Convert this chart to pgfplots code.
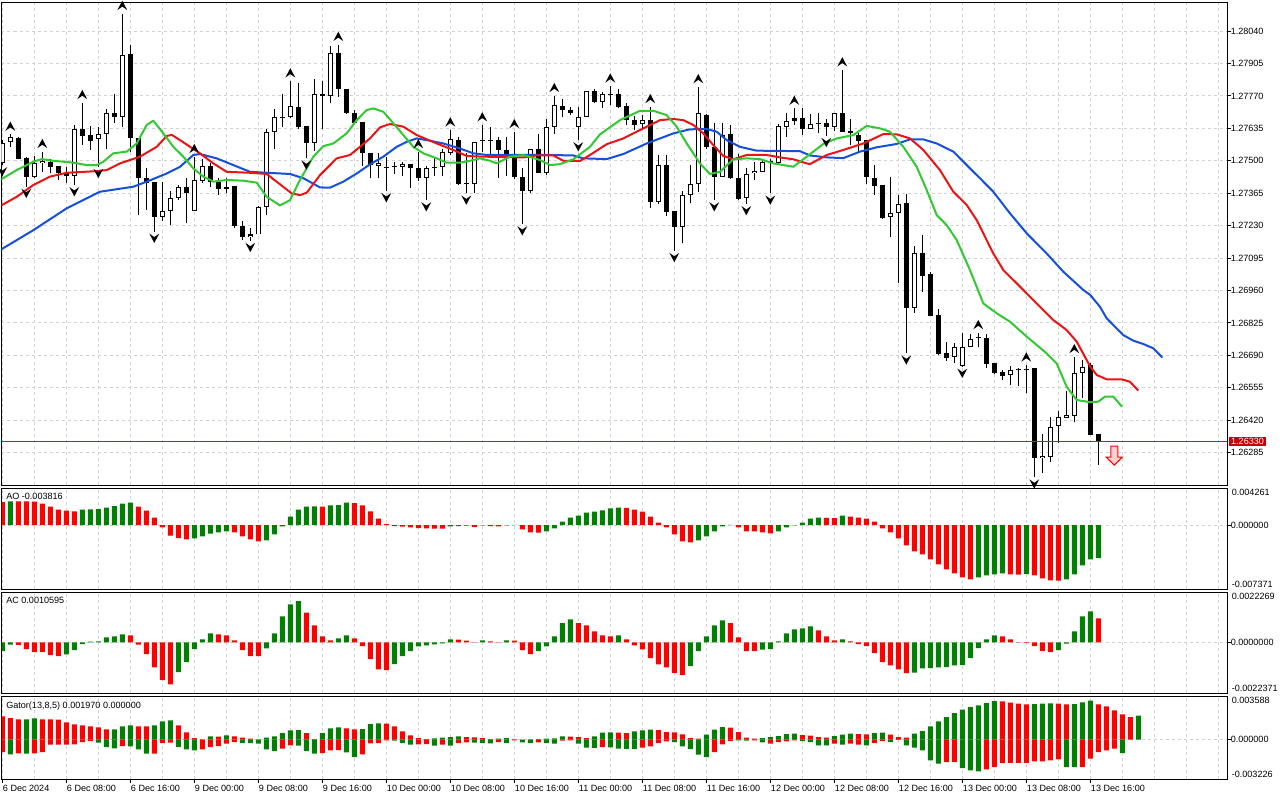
\documentclass[border=0pt]{standalone}
\usepackage{pgfplots}
\pgfplotsset{compat=1.18}
\usepackage{pgfplotstable}
\usepackage{fontspec}
\setmainfont{Liberation Sans}
\newcommand\tf{\fontsize{6.8}{8}\selectfont}
\definecolor{jaw}{RGB}{20,80,220}
\definecolor{teeth}{RGB}{235,20,20}
\definecolor{lips}{RGB}{50,200,50}
\definecolor{upg}{RGB}{0,128,0}
\definecolor{dnr}{RGB}{255,0,0}
\definecolor{gridc}{RGB}{210,210,210}
\definecolor{plabel}{RGB}{200,0,0}

\pgfdeclareplotmark{fup}{%
  \pgfpathmoveto{\pgfqpoint{0pt}{9.6pt}}%
  \pgfpathlineto{\pgfqpoint{3.7pt}{2.6pt}}%
  \pgfpathlineto{\pgfqpoint{0pt}{5.2pt}}%
  \pgfpathlineto{\pgfqpoint{-3.7pt}{2.6pt}}%
  \pgfpathclose\pgfusepathqfill}
\pgfdeclareplotmark{fdown}{%
  \pgfpathmoveto{\pgfqpoint{0pt}{-8.5pt}}%
  \pgfpathlineto{\pgfqpoint{3.7pt}{-1.5pt}}%
  \pgfpathlineto{\pgfqpoint{0pt}{-4.1pt}}%
  \pgfpathlineto{\pgfqpoint{-3.7pt}{-1.5pt}}%
  \pgfpathclose\pgfusepathqfill}
\pgfdeclareplotmark{sell}{%
  \pgfpathmoveto{\pgfqpoint{-2.6pt}{0pt}}%
  \pgfpathlineto{\pgfqpoint{2.6pt}{0pt}}%
  \pgfpathlineto{\pgfqpoint{2.6pt}{-8.25pt}}%
  \pgfpathlineto{\pgfqpoint{6pt}{-8.25pt}}%
  \pgfpathlineto{\pgfqpoint{0pt}{-14.25pt}}%
  \pgfpathlineto{\pgfqpoint{-6pt}{-8.25pt}}%
  \pgfpathlineto{\pgfqpoint{-2.6pt}{-8.25pt}}%
  \pgfpathclose\pgfusepathqfillstroke}

\pgfplotstableread{
k O H L C
0 1.27492 1.27586 1.27482 1.27575
1 1.27579 1.27610 1.27558 1.27600
2 1.27596 1.27600 1.27506 1.27507
3 1.27510 1.27517 1.27392 1.27434
4 1.27434 1.27520 1.27427 1.27489
5 1.27489 1.27538 1.27454 1.27500
6 1.27496 1.27506 1.27447 1.27475
7 1.27478 1.27480 1.27420 1.27447
8 1.27438 1.27475 1.27409 1.27447
9 1.27438 1.27649 1.27399 1.27631
10 1.27631 1.27742 1.27565 1.27603
11 1.27607 1.27644 1.27545 1.27583
12 1.27589 1.27642 1.27475 1.27610
13 1.27610 1.27714 1.27549 1.27697
14 1.27697 1.27778 1.27658 1.27681
15 1.27681 1.28113 1.27642 1.27940
16 1.27944 1.27982 1.27538 1.27593
17 1.27593 1.27593 1.27274 1.27429
18 1.27429 1.27468 1.27295 1.27406
19 1.27410 1.27410 1.27205 1.27267
20 1.27267 1.27410 1.27250 1.27289
21 1.27292 1.27375 1.27232 1.27347
22 1.27343 1.27399 1.27336 1.27389
23 1.27389 1.27427 1.27242 1.27364
24 1.27292 1.27517 1.27292 1.27420
25 1.27417 1.27506 1.27409 1.27478
26 1.27478 1.27489 1.27392 1.27413
27 1.27413 1.27427 1.27357 1.27381
28 1.27381 1.27427 1.27364 1.27389
29 1.27395 1.27395 1.27218 1.27228
30 1.27228 1.27250 1.27170 1.27181
31 1.27181 1.27218 1.27167 1.27193
32 1.27193 1.27311 1.27193 1.27306
33 1.27306 1.27631 1.27274 1.27621
34 1.27621 1.27714 1.27551 1.27683
35 1.27681 1.27780 1.27642 1.27683
36 1.27681 1.27832 1.27676 1.27729
37 1.27725 1.27822 1.27631 1.27639
38 1.27644 1.27644 1.27510 1.27575
39 1.27575 1.27839 1.27542 1.27780
40 1.27780 1.27832 1.27631 1.27771
41 1.27771 1.27978 1.27739 1.27947
42 1.27947 1.27984 1.27767 1.27797
43 1.27797 1.27800 1.27694 1.27697
44 1.27697 1.27711 1.27653 1.27658
45 1.27660 1.27660 1.27478 1.27531
46 1.27531 1.27531 1.27427 1.27482
47 1.27479 1.27531 1.27427 1.27492
48 1.27472 1.27517 1.27374 1.27470
49 1.27477 1.27496 1.27445 1.27474
50 1.27475 1.27493 1.27436 1.27485
51 1.27485 1.27485 1.27385 1.27468
52 1.27468 1.27537 1.27416 1.27429
53 1.27429 1.27478 1.27336 1.27468
54 1.27471 1.27510 1.27438 1.27472
55 1.27472 1.27547 1.27436 1.27535
56 1.27533 1.27628 1.27524 1.27589
57 1.27586 1.27600 1.27399 1.27403
58 1.27407 1.27531 1.27364 1.27404
59 1.27402 1.27579 1.27364 1.27579
60 1.27582 1.27649 1.27538 1.27585
61 1.27583 1.27642 1.27517 1.27582
62 1.27586 1.27600 1.27429 1.27545
63 1.27545 1.27600 1.27436 1.27517
64 1.27517 1.27621 1.27422 1.27431
65 1.27434 1.27468 1.27236 1.27375
66 1.27375 1.27549 1.27364 1.27549
67 1.27549 1.27610 1.27447 1.27447
68 1.27447 1.27674 1.27440 1.27642
69 1.27642 1.27771 1.27611 1.27732
70 1.27728 1.27757 1.27681 1.27711
71 1.27711 1.27725 1.27690 1.27700
72 1.27639 1.27722 1.27586 1.27681
73 1.27683 1.27792 1.27681 1.27790
74 1.27790 1.27797 1.27739 1.27746
75 1.27746 1.27787 1.27718 1.27776
76 1.27778 1.27811 1.27732 1.27775
77 1.27778 1.27797 1.27721 1.27725
78 1.27728 1.27739 1.27649 1.27669
79 1.27669 1.27686 1.27628 1.27649
80 1.27651 1.27690 1.27635 1.27669
81 1.27669 1.27725 1.27302 1.27327
82 1.27327 1.27524 1.27320 1.27482
83 1.27482 1.27524 1.27270 1.27288
84 1.27291 1.27291 1.27125 1.27225
85 1.27225 1.27375 1.27156 1.27357
86 1.27357 1.27482 1.27323 1.27403
87 1.27403 1.27808 1.27371 1.27697
88 1.27690 1.27693 1.27551 1.27556
89 1.27556 1.27656 1.27336 1.27434
90 1.27434 1.27656 1.27431 1.27607
91 1.27610 1.27649 1.27424 1.27427
92 1.27427 1.27528 1.27336 1.27341
93 1.27343 1.27468 1.27320 1.27445
94 1.27447 1.27496 1.27420 1.27457
95 1.27454 1.27506 1.27452 1.27493
96 1.27497 1.27506 1.27364 1.27500
97 1.27489 1.27653 1.27486 1.27644
98 1.27642 1.27697 1.27600 1.27665
99 1.27667 1.27718 1.27649 1.27676
100 1.27676 1.27718 1.27607 1.27631
101 1.27631 1.27694 1.27631 1.27651
102 1.27657 1.27697 1.27614 1.27654
103 1.27656 1.27672 1.27604 1.27639
104 1.27639 1.27700 1.27625 1.27697
105 1.27700 1.27878 1.27621 1.27621
106 1.27624 1.27672 1.27565 1.27614
107 1.27607 1.27614 1.27538 1.27583
108 1.27586 1.27586 1.27403 1.27431
109 1.27429 1.27482 1.27357 1.27396
110 1.27399 1.27399 1.27257 1.27260
111 1.27264 1.27434 1.27184 1.27281
112 1.27281 1.27357 1.26992 1.27320
113 1.27323 1.27361 1.26698 1.26888
114 1.26885 1.27145 1.26867 1.27114
115 1.27114 1.27191 1.26955 1.27021
116 1.27028 1.27035 1.26854 1.26854
117 1.26858 1.26881 1.26691 1.26695
118 1.26698 1.26747 1.26668 1.26680
119 1.26681 1.26740 1.26659 1.26723
120 1.26647 1.26781 1.26643 1.26723
121 1.26726 1.26777 1.26723 1.26758
122 1.26762 1.26784 1.26723 1.26765
123 1.26760 1.26779 1.26636 1.26654
124 1.26656 1.26659 1.26611 1.26618
125 1.26622 1.26629 1.26587 1.26605
126 1.26608 1.26645 1.26566 1.26629
127 1.26631 1.26638 1.26563 1.26634
128 1.26631 1.26649 1.26531 1.26634
129 1.26636 1.26636 1.26182 1.26261
130 1.26261 1.26362 1.26198 1.26271
131 1.26268 1.26434 1.26247 1.26393
132 1.26397 1.26459 1.26323 1.26432
133 1.26430 1.26541 1.26428 1.26441
134 1.26439 1.26684 1.26411 1.26615
135 1.26615 1.26670 1.26511 1.26643
136 1.26649 1.26656 1.26358 1.26358
137 1.26361 1.26361 1.26233 1.26330
}\candles

\pgfplotstableread{
k v c
0 0.002649 0
1 0.002726 1
2 0.002720 0
3 0.002710 0
4 0.002687 0
5 0.002457 0
6 0.002111 0
7 0.001766 0
8 0.001651 0
9 0.001574 0
10 0.001766 1
11 0.001804 1
12 0.001843 1
13 0.001996 1
14 0.002188 1
15 0.002457 1
16 0.002572 1
17 0.002111 0
18 0.001651 0
19 0.000845 0
20 -0.000269 0
21 -0.001228 0
22 -0.001497 0
23 -0.001651 0
24 -0.001536 1
25 -0.001305 1
26 -0.000998 1
27 -0.000845 1
28 -0.000729 1
29 -0.000845 0
30 -0.001305 0
31 -0.001651 0
32 -0.001881 0
33 -0.001766 1
34 -0.001075 1
35 -0.000154 1
36 0.000960 1
37 0.001766 1
38 0.002111 1
39 0.002150 1
40 0.002111 0
41 0.002265 1
42 0.002303 1
43 0.002572 1
44 0.002534 0
45 0.002265 0
46 0.001574 0
47 0.000729 0
48 0.000115 0
49 -0.000115 0
50 -0.000192 0
51 -0.000269 0
52 -0.000346 0
53 -0.000384 0
54 -0.000403 0
55 -0.000422 0
56 -0.000154 1
57 -0.000115 1
58 -0.000077 1
59 -0.000230 0
60 -0.000038 1
61 -0.000115 0
62 -0.000154 0
63 -0.000038 1
64 0.000020 1
65 -0.000499 0
66 -0.000845 0
67 -0.000864 0
68 -0.000729 1
69 -0.000384 1
70 0.000384 1
71 0.000845 1
72 0.001075 1
73 0.001420 1
74 0.001536 1
75 0.001689 1
76 0.001920 1
77 0.001996 1
78 0.001977 0
79 0.001766 0
80 0.001536 0
81 0.000960 0
82 0.000269 0
83 -0.000269 0
84 -0.001075 0
85 -0.001881 0
86 -0.001996 0
87 -0.001766 1
88 -0.001305 1
89 -0.000729 1
90 -0.000154 1
91 0.000020 1
92 -0.000269 0
93 -0.000729 0
94 -0.000735 0
95 -0.000845 0
96 -0.000960 0
97 -0.000729 1
98 -0.000269 1
99 -0.000038 1
100 0.000269 1
101 0.000729 1
102 0.000845 1
103 0.000825 0
104 0.000806 0
105 0.001075 1
106 0.000960 0
107 0.000845 0
108 0.000729 0
109 0.000384 0
110 -0.000384 0
111 -0.000845 0
112 -0.001536 0
113 -0.002342 0
114 -0.003033 0
115 -0.003378 0
116 -0.003954 0
117 -0.004530 0
118 -0.005106 0
119 -0.005567 0
120 -0.006027 0
121 -0.006258 0
122 -0.006027 1
123 -0.005797 1
124 -0.005682 1
125 -0.005567 1
126 -0.005682 0
127 -0.005720 0
128 -0.005643 1
129 -0.005797 0
130 -0.006142 0
131 -0.006373 0
132 -0.006411 0
133 -0.006258 1
134 -0.005682 1
135 -0.004645 1
136 -0.003954 1
137 -0.003816 1
}\ao

\pgfplotstableread{
k v c
0 -0.000383 1
1 -0.000103 1
2 -0.000105 0
3 -0.000295 0
4 -0.000427 0
5 -0.000430 0
6 -0.000560 0
7 -0.000604 0
8 -0.000530 1
9 -0.000339 1
10 -0.000074 1
11 0.000030 1
12 0.000044 1
13 0.000221 1
14 0.000265 1
15 0.000354 1
16 0.000309 0
17 -0.000103 0
18 -0.000516 0
19 -0.001105 0
20 -0.001665 0
21 -0.001856 0
22 -0.001311 1
23 -0.000869 1
24 -0.000295 1
25 0.000133 1
26 0.000398 1
27 0.000354 0
28 0.000309 0
29 0.000088 0
30 -0.000339 0
31 -0.000604 0
32 -0.000606 0
33 -0.000265 1
34 0.000398 1
35 0.001149 1
36 0.001679 1
37 0.001827 1
38 0.001311 0
39 0.000751 0
40 0.000265 0
41 0.000088 0
42 0.000177 1
43 0.000309 1
44 0.000177 0
45 -0.000162 0
46 -0.000737 0
47 -0.001193 0
48 -0.001223 0
49 -0.000958 1
50 -0.000604 1
51 -0.000383 1
52 -0.000177 1
53 -0.000133 1
54 -0.000088 1
55 -0.000044 1
56 0.000133 1
57 0.000118 0
58 0.000074 0
59 -0.000015 0
60 0.000088 1
61 0.000044 0
62 0.000015 0
63 0.000088 1
64 0.000074 0
65 -0.000339 0
66 -0.000516 0
67 -0.000383 1
68 -0.000177 1
69 0.000265 1
70 0.000854 1
71 0.001016 1
72 0.000854 0
73 0.000751 0
74 0.000486 0
75 0.000309 0
76 0.000265 0
77 0.000309 1
78 0.000133 0
79 -0.000133 0
80 -0.000309 0
81 -0.000692 0
82 -0.000972 0
83 -0.001105 0
84 -0.001355 0
85 -0.001444 0
86 -0.001046 1
87 -0.000383 1
88 0.000265 1
89 0.000751 1
90 0.000972 1
91 0.000854 0
92 0.000221 0
93 -0.000383 0
94 -0.000385 0
95 -0.000324 1
96 -0.000295 1
97 0.000044 1
98 0.000398 1
99 0.000575 1
100 0.000619 1
101 0.000707 1
102 0.000530 0
103 0.000265 0
104 0.000088 0
105 0.000133 1
106 0.000044 0
107 -0.000074 0
108 -0.000162 0
109 -0.000471 0
110 -0.000869 0
111 -0.001016 0
112 -0.001193 0
113 -0.001355 0
114 -0.001341 1
115 -0.001149 1
116 -0.001134 1
117 -0.001105 1
118 -0.001090 1
119 -0.001016 1
120 -0.001002 1
121 -0.000692 1
122 -0.000250 1
123 0.000133 1
124 0.000309 1
125 0.000265 0
126 0.000133 0
127 -0.000015 0
128 -0.000030 0
129 -0.000162 0
130 -0.000383 0
131 -0.000427 0
132 -0.000339 1
133 -0.000059 1
134 0.000486 1
135 0.001149 1
136 0.001370 1
137 0.0010595 0
}\ac

\pgfplotstableread{
k v c
0 0.001916 0
1 0.001779 0
2 0.001670 0
3 0.001675 1
4 0.001752 1
5 0.001670 0
6 0.001665 0
7 0.001660 0
8 0.001423 0
9 0.001259 0
10 0.001177 0
11 0.001095 0
12 0.001013 0
13 0.000848 0
14 0.000855 1
15 0.001095 1
16 0.001177 1
17 0.001095 0
18 0.001090 0
19 0.001177 1
20 0.001505 1
21 0.001587 1
22 0.001177 0
23 0.000602 0
24 0.000137 0
25 0.000027 0
26 0.000274 1
27 0.000246 0
28 0.000356 1
29 0.000274 0
30 0.000164 0
31 0.000082 0
32 0.000027 0
33 0.000164 1
34 0.000274 1
35 0.000547 1
36 0.000766 1
37 0.000794 1
38 0.000547 0
39 0.000055 0
40 0.000547 1
41 0.000931 1
42 0.001013 1
43 0.000931 0
44 0.000848 0
45 0.000876 1
46 0.001286 1
47 0.001341 1
48 0.001314 0
49 0.001095 0
50 0.000684 0
51 0.000356 0
52 0.000137 0
53 0.000055 0
54 0.000109 1
55 0.000164 1
56 0.000219 1
57 0.000274 1
58 0.000219 0
59 0.000192 0
60 0.000137 0
61 0.000055 0
62 0.000082 1
63 0.000137 1
64 0.000027 0
65 0.000014 0
66 0.000027 1
67 0.000055 1
68 0.000082 1
69 0.000109 1
70 0.000274 1
71 0.000246 0
72 0.000219 0
73 0.000137 0
74 0.000274 1
75 0.000575 1
76 0.000602 1
77 0.000575 0
78 0.000547 0
79 0.000684 1
80 0.000766 1
81 0.000821 1
82 0.000794 0
83 0.000630 0
84 0.000602 0
85 0.000438 0
86 0.000137 0
87 0.000082 0
88 0.000411 1
89 0.000821 1
90 0.001040 1
91 0.000985 0
92 0.000630 0
93 0.000164 0
94 0.000082 0
95 0.000137 1
96 0.000219 1
97 0.000301 1
98 0.000465 1
99 0.000493 1
100 0.000383 0
101 0.000328 0
102 0.000219 0
103 0.000164 0
104 0.000301 1
105 0.000411 1
106 0.000493 1
107 0.000465 0
108 0.000438 0
109 0.000547 1
110 0.000575 1
111 0.000411 0
112 0.000219 0
113 0.000164 0
114 0.000493 1
115 0.000712 1
116 0.001095 1
117 0.001505 1
118 0.001861 1
119 0.002190 1
120 0.002463 1
121 0.002682 1
122 0.002819 1
123 0.003011 1
124 0.003175 1
125 0.003148 0
126 0.003038 0
127 0.002956 0
128 0.002901 0
129 0.002929 1
130 0.002956 1
131 0.002983 1
132 0.002956 0
133 0.002901 0
134 0.002929 1
135 0.003065 1
136 0.003202 1
137 0.002901 0
138 0.002737 0
139 0.002409 0
140 0.002080 0
141 0.001861 0
142 0.001970 1
}\gu

\pgfplotstableread{
k v c
0 -0.001013 0
1 -0.001204 1
2 -0.001122 0
3 -0.001150 1
4 -0.001122 0
5 -0.001013 0
6 -0.000411 0
7 -0.000405 0
8 -0.000400 0
9 -0.000383 0
10 -0.000192 0
11 -0.000109 0
12 -0.000246 1
13 -0.000602 1
14 -0.000712 1
15 -0.000520 0
16 -0.000547 1
17 -0.000794 1
18 -0.001150 1
19 -0.001140 0
20 -0.000274 0
21 -0.000246 0
22 -0.000602 1
23 -0.000794 1
24 -0.000876 1
25 -0.000794 0
26 -0.000602 0
27 -0.000520 0
28 -0.000328 0
29 -0.000192 0
30 -0.000274 1
31 -0.000280 1
32 -0.000328 1
33 -0.000794 1
34 -0.000931 1
35 -0.000739 0
36 -0.000465 0
37 -0.000493 1
38 -0.000931 1
39 -0.001150 1
40 -0.001095 0
41 -0.000876 0
42 -0.000848 0
43 -0.001040 1
44 -0.001423 1
45 -0.001204 0
46 -0.000301 0
47 -0.000274 0
48 -0.000055 0
49 -0.000082 1
50 -0.000274 1
51 -0.000411 1
52 -0.000383 0
53 -0.000356 0
54 -0.000493 1
55 -0.000411 0
56 -0.000493 1
57 -0.000274 0
58 -0.000219 0
59 -0.000246 1
60 -0.000274 1
61 -0.000301 1
62 -0.000192 0
63 -0.000274 1
64 -0.000055 0
65 -0.000219 1
66 -0.000274 1
67 -0.000219 0
68 -0.000274 1
69 -0.000328 1
70 -0.000082 0
71 -0.000055 0
72 -0.000328 1
73 -0.000657 1
74 -0.000665 1
75 -0.000602 0
76 -0.000630 1
77 -0.000739 1
78 -0.000745 1
79 -0.000766 1
80 -0.000657 0
81 -0.000547 0
82 -0.000274 0
83 -0.000137 0
84 -0.000192 1
85 -0.000547 1
86 -0.000766 1
87 -0.001232 1
88 -0.001423 1
89 -0.001013 0
90 -0.000383 0
91 -0.000109 0
92 -0.000055 1
93 -0.000082 1
94 -0.000055 0
95 -0.000219 1
96 -0.000328 0
97 -0.000192 0
98 -0.000137 0
99 -0.000055 0
100 -0.000109 1
101 -0.000192 1
102 -0.000465 1
103 -0.000470 1
104 -0.000328 0
105 -0.000411 1
106 -0.000328 0
107 -0.000411 0
108 -0.000465 1
109 -0.000274 0
110 -0.000109 0
111 -0.000192 1
112 -0.000010 0
113 -0.000465 1
114 -0.000657 1
115 -0.000876 1
116 -0.001697 1
117 -0.001971 1
118 -0.001834 0
119 -0.001830 0
120 -0.002326 1
121 -0.002518 1
122 -0.002600 1
123 -0.002436 0
124 -0.002244 0
125 -0.001916 0
126 -0.001910 0
127 -0.001905 0
128 -0.001900 0
129 -0.001779 0
130 -0.001775 0
131 -0.001697 0
132 -0.001615 0
133 -0.002244 1
134 -0.002250 1
135 -0.002244 0
136 -0.001560 0
137 -0.001013 0
138 -0.000876 0
139 -0.000739 0
140 -0.001095 1
}\gl

\pgfplotsset{
  mt/.style={
    scale only axis, width=919.125pt,
    xmin=-0.1, xmax=153.09,
    axis line style={black, line width=0.75pt},
    xtick={0,4,...,152}, xticklabels={},
    xmajorgrids,
    scaled y ticks=false, scaled x ticks=false,
    major grid style={gridc, line width=0.75pt, dash pattern=on 2.25pt off 2.25pt},
    ytick pos=right, yticklabel pos=right,
    tick align=outside, major tick length=3pt,
    xtick style={draw=none},
    ytick style={black, line width=0.75pt},
    tick label style={font=\tf},
    yticklabel style={anchor=west, inner sep=0pt, xshift=-0.4pt},
  },
  hb/.style={ybar, bar width=0.62, bar shift=0pt, draw=none, fill=#1, forget plot},
  cdl/.style={forget plot, draw=none, no markers, error bars/y dir=plus, error bars/y explicit, error bars/error mark=none},
}

\begin{document}
\begin{tikzpicture}
\useasboundingbox (0,0) rectangle (960pt,-600pt);

% ---------------- main price panel
\begin{axis}[mt, at={(1.125pt,-363.75pt)}, anchor=south west, height=362.25pt,
  ymin=1.26150, ymax=1.28161,
  ytick={1.28040,1.27905,1.27770,1.27635,1.27500,1.27365,1.27230,1.27095,1.26960,1.26825,1.26690,1.26555,1.26420,1.26285},
  yticklabels={1.28040,1.27905,1.27770,1.27635,1.27500,1.27365,1.27230,1.27095,1.26960,1.26825,1.26690,1.26555,1.26420,1.26285},
  ymajorgrids]
% wicks
\addplot[cdl, error bars/error bar style={draw=black, line width=0.75pt}]
  table[x=k, y=L, y error plus expr={\thisrow{H}-\thisrow{L}}] {\candles};
% bodies
\addplot[cdl, error bars/error bar style={draw=black, line width=3.75pt}]
  table[x=k, y expr={min(\thisrow{O},\thisrow{C})}, y error plus expr={max(abs(\thisrow{C}-\thisrow{O}),0.00003)}] {\candles};
\addplot[cdl, restrict expr to domain={\thisrow{C}-\thisrow{O}}{0.0001:1},
  error bars/error bar style={draw=white, line width=2.25pt}]
  table[x=k, y expr={\thisrow{O}+0.0000416}, y error plus expr={\thisrow{C}-\thisrow{O}-0.0000832}] {\candles};
% current price line (last close 1.26330), drawn as a 1px band
\addplot[forget plot, fill=dnr, draw=none, no markers] coordinates {
(-0.1,1.263279) (153.09,1.263279) (153.09,1.263321) (-0.1,1.263321)};
% alligator
\addplot[forget plot, draw=jaw, line width=1.5pt, no markers, line join=round] coordinates {
(-0.29,1.27128) (3.88,1.27211) (8.05,1.27302) (12.21,1.27371) (16.38,1.27392) (18.05,1.27413) (20.55,1.27447) (22.21,1.27475) (23.88,1.27524) (24.71,1.27528) (26.8,1.27510) (28.88,1.27482) (30.96,1.27454) (33.05,1.27450) (35.96,1.27445) (37.66,1.27427) (39.71,1.27389) (40.96,1.27388) (42.63,1.27413) (44.3,1.27447) (45.96,1.27485) (47.63,1.27517) (49.3,1.27558) (50.55,1.27579) (51.8,1.27593) (53.05,1.27586) (55.13,1.27572) (57.21,1.27551) (58.88,1.27531) (60.55,1.27524) (68.46,1.27524) (71.38,1.27522) (72.63,1.27510) (75.55,1.27507) (77.63,1.27528) (80.55,1.27572) (83.88,1.27614) (85.96,1.27631) (88.05,1.27632) (89.3,1.27621) (90.55,1.27586) (92.21,1.27558) (94.3,1.27542) (99.71,1.27540) (100.96,1.27522) (103.05,1.27514) (105.13,1.27511) (107.21,1.27538) (109.3,1.27556) (111.8,1.27570) (113.46,1.27589) (115.13,1.27589) (116.8,1.27572) (118.88,1.27538) (120.55,1.27482) (122.21,1.27427) (123.88,1.27371) (125.96,1.27281) (128.05,1.27198) (130.55,1.27114) (132.63,1.27038) (135.13,1.26962) (136.0,1.26941) (137.21,1.26892) (138.05,1.26844) (139.3,1.26802) (140.13,1.26774) (141.38,1.26751) (142.63,1.26737) (143.88,1.26719) (145.0,1.26681)};
\addplot[forget plot, draw=teeth, line width=1.5pt, no markers, line join=round] coordinates {
(-0.29,1.27311) (1.8,1.27350) (3.88,1.27399) (5.96,1.27434) (8.05,1.27450) (11.38,1.27456) (13.05,1.27461) (14.71,1.27489) (17.21,1.27517) (19.3,1.27558) (20.55,1.27603) (21.18,1.27608) (22.21,1.27586) (24.71,1.27531) (26.38,1.27489) (28.05,1.27454) (30.96,1.27450) (33.05,1.27445) (34.71,1.27402) (36.18,1.27364) (37.21,1.27357) (38.05,1.27367) (39.71,1.27440) (41.8,1.27510) (43.46,1.27524) (44.71,1.27558) (45.96,1.27593) (47.21,1.27639) (48.46,1.27653) (50.13,1.27642) (51.8,1.27607) (54.3,1.27572) (56.38,1.27545) (58.05,1.27520) (60.13,1.27517) (65.13,1.27514) (66.8,1.27522) (68.88,1.27522) (70.13,1.27500) (72.21,1.27499) (73.46,1.27524) (75.55,1.27569) (77.63,1.27593) (79.71,1.27628) (82.21,1.27669) (83.88,1.27674) (85.13,1.27669) (86.38,1.27649) (87.63,1.27614) (88.88,1.27565) (90.13,1.27520) (91.38,1.27506) (93.05,1.27524) (95.55,1.27524) (97.21,1.27514) (98.88,1.27506) (100.55,1.27489) (100.96,1.27486) (103.05,1.27524) (105.13,1.27545) (107.63,1.27572) (110.13,1.27611) (111.8,1.27610) (113.46,1.27593) (115.13,1.27545) (117.21,1.27461) (118.88,1.27371) (120.55,1.27316) (121.8,1.27253) (123.88,1.27114) (125.13,1.27045) (127.21,1.26976) (129.3,1.26906) (131.38,1.26837) (133.05,1.26795) (134.3,1.26747) (135.96,1.26645) (136.8,1.26608) (138.05,1.26590) (139.93,1.26590) (140.96,1.26580) (142.0,1.26543)};
\addplot[forget plot, draw=lips, line width=1.5pt, no markers, line join=round] coordinates {
(-0.29,1.27420) (1.8,1.27461) (3.88,1.27496) (4.93,1.27507) (6.38,1.27500) (8.88,1.27492) (10.55,1.27482) (11.8,1.27482) (12.63,1.27496) (13.88,1.27531) (15.55,1.27538) (16.8,1.27572) (18.05,1.27649) (18.88,1.27667) (20.13,1.27614) (21.38,1.27558) (22.63,1.27517) (23.88,1.27468) (25.13,1.27434) (26.38,1.27413) (28.05,1.27420) (30.13,1.27417) (31.8,1.27409) (33.05,1.27350) (34.71,1.27314) (35.96,1.27336) (37.21,1.27420) (38.88,1.27517) (40.13,1.27561) (41.38,1.27572) (43.05,1.27614) (44.3,1.27669) (45.55,1.27711) (46.38,1.27718) (47.63,1.27704) (48.88,1.27656) (50.13,1.27607) (51.38,1.27558) (52.63,1.27531) (54.3,1.27510) (55.55,1.27492) (57.21,1.27492) (58.46,1.27500) (59.71,1.27510) (60.96,1.27500) (61.8,1.27489) (63.46,1.27517) (65.13,1.27524) (67.21,1.27503) (68.46,1.27482) (69.71,1.27486) (71.38,1.27506) (73.46,1.27558) (74.71,1.27610) (77.21,1.27669) (79.71,1.27708) (81.38,1.27708) (83.05,1.27690) (84.3,1.27642) (85.55,1.27572) (87.21,1.27489) (88.46,1.27445) (89.71,1.27454) (91.38,1.27506) (93.05,1.27510) (94.71,1.27507) (96.38,1.27489) (98.88,1.27475) (100.55,1.27517) (102.63,1.27570) (104.3,1.27593) (106.38,1.27607) (108.05,1.27645) (109.71,1.27635) (110.96,1.27621) (112.63,1.27558) (114.3,1.27475) (115.55,1.27378) (116.8,1.27274) (118.05,1.27232) (119.3,1.27170) (120.96,1.27045) (122.63,1.26906) (124.3,1.26865) (125.96,1.26830) (128.05,1.26768) (130.55,1.26698) (131.8,1.26656) (133.05,1.26559) (134.3,1.26504) (135.96,1.26495) (137.0,1.26497) (137.84,1.26518) (138.88,1.26518) (139.96,1.26476)};
% fractals
\addplot[forget plot, black, only marks, mark=fup] coordinates {
(1,1.27610) (5,1.27538) (10,1.27742) (15,1.28113) (24,1.27517) (36,1.27832) (42,1.27984) (52,1.27537) (56,1.27628) (60,1.27649) (64,1.27621) (69,1.27771) (76,1.27811) (81,1.27725) (87,1.27808) (99,1.27718) (105,1.27878) (122,1.26784) (128,1.26649) (134,1.26684)};
\addplot[forget plot, black, only marks, mark=fdown] coordinates {
(0,1.27482) (3,1.27392) (9,1.27399) (12,1.27475) (19,1.27205) (31,1.27167) (38,1.27510) (48,1.27374) (53,1.27336) (58,1.27364) (65,1.27236) (72,1.27586) (84,1.27125) (89,1.27336) (93,1.27320) (96,1.27364) (103,1.27604) (113,1.26698) (120,1.26643) (129,1.26182)};
% sell signal
\addplot[forget plot, only marks, mark=sell, mark options={draw=dnr, fill=dnr!18, line width=0.75pt}] coordinates {(139,1.26312)};
\coordinate (pl) at (axis cs:153.09,1.26330);
\end{axis}
\node[anchor=west, fill=plabel, text=white, inner xsep=1.4pt, inner ysep=0.9pt, font=\tf, xshift=1.5pt] at (pl) {1.26330};

% ---------------- AO
\begin{axis}[mt, at={(1.125pt,-441.75pt)}, anchor=south west, height=75.75pt,
  ymin=-0.007371, ymax=0.004261, ytick={0}, yticklabels={0.000000}, ymajorgrids]
\addplot[hb=upg, restrict expr to domain={\thisrow{c}}{0.5:1.5}] table[x=k,y=v]{\ao};
\addplot[hb=dnr, restrict expr to domain={\thisrow{c}}{-0.5:0.5}] table[x=k,y=v]{\ao};
\coordinate (aoT) at (rel axis cs:1,1);
\coordinate (aoB) at (rel axis cs:1,0);
\coordinate (aoL) at (rel axis cs:0,1);
\end{axis}
\node[anchor=north west, inner sep=0pt, font=\tf, xshift=3.4pt, yshift=-4pt] at (aoL) {AO -0.003816};
\node[anchor=north west, inner sep=0pt, font=\tf, xshift=3.4pt, yshift=-1pt] at (aoT) {0.004261};
\node[anchor=south west, inner sep=0pt, font=\tf, xshift=3.4pt, yshift=0.5pt] at (aoB) {-0.007371};

% ---------------- AC
\begin{axis}[mt, at={(1.125pt,-519.75pt)}, anchor=south west, height=75.75pt,
  ymin=-0.0022371, ymax=0.0022269, ytick={0}, yticklabels={0.0000000}, ymajorgrids]
\addplot[hb=upg, restrict expr to domain={\thisrow{c}}{0.5:1.5}] table[x=k,y=v]{\ac};
\addplot[hb=dnr, restrict expr to domain={\thisrow{c}}{-0.5:0.5}] table[x=k,y=v]{\ac};
\coordinate (acT) at (rel axis cs:1,1);
\coordinate (acB) at (rel axis cs:1,0);
\coordinate (acL) at (rel axis cs:0,1);
\end{axis}
\node[anchor=north west, inner sep=0pt, font=\tf, xshift=3.4pt, yshift=-4pt] at (acL) {AC 0.0010595};
\node[anchor=north west, inner sep=0pt, font=\tf, xshift=3.4pt, yshift=-1pt] at (acT) {0.0022269};
\node[anchor=south west, inner sep=0pt, font=\tf, xshift=3.4pt, yshift=0.5pt] at (acB) {-0.0022371};

% ---------------- Gator
\begin{axis}[mt, at={(1.125pt,-584.25pt)}, anchor=south west, height=62.25pt,
  ymin=-0.003226, ymax=0.003588, ytick={0}, yticklabels={0.000000}, ymajorgrids,
  xtick pos=bottom,
  extra x ticks={0,8,...,136},
  extra x tick labels={6 Dec 2024,6 Dec 08:00,6 Dec 16:00,9 Dec 00:00,9 Dec 08:00,9 Dec 16:00,10 Dec 00:00,10 Dec 08:00,10 Dec 16:00,11 Dec 00:00,11 Dec 08:00,11 Dec 16:00,12 Dec 00:00,12 Dec 08:00,12 Dec 16:00,13 Dec 00:00,13 Dec 08:00,13 Dec 16:00},
  extra x tick style={grid=none, xtick style={draw=black, line width=0.75pt},
    xticklabel style={anchor=north west, inner sep=0pt, xshift=0.3pt, yshift=-1.5pt}}]
\addplot[hb=upg, restrict expr to domain={\thisrow{c}}{0.5:1.5}] table[x=k,y=v]{\gu};
\addplot[hb=dnr, restrict expr to domain={\thisrow{c}}{-0.5:0.5}] table[x=k,y=v]{\gu};
\addplot[hb=upg, restrict expr to domain={\thisrow{c}}{0.5:1.5}] table[x=k,y=v]{\gl};
\addplot[hb=dnr, restrict expr to domain={\thisrow{c}}{-0.5:0.5}] table[x=k,y=v]{\gl};
\coordinate (gT) at (rel axis cs:1,1);
\coordinate (gB) at (rel axis cs:1,0);
\coordinate (gL) at (rel axis cs:0,1);
\end{axis}
\node[anchor=north west, inner sep=0pt, font=\tf, xshift=3.4pt, yshift=-4pt] at (gL) {Gator(13,8,5) 0.001970 0.000000};
\node[anchor=north west, inner sep=0pt, font=\tf, xshift=3.4pt, yshift=-1pt] at (gT) {0.003588};
\node[anchor=south west, inner sep=0pt, font=\tf, xshift=3.4pt, yshift=0.5pt] at (gB) {-0.003226};
\end{tikzpicture}
\end{document}
